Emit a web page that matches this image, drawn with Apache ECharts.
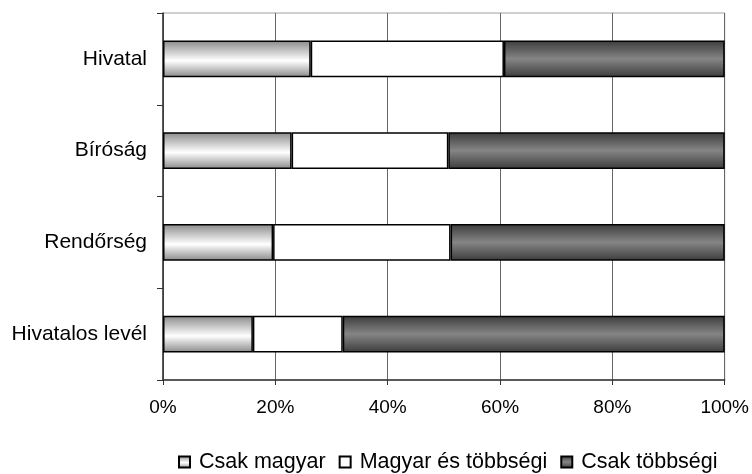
<!DOCTYPE html>
<html><head><meta charset="utf-8">
<script src="https://cdn.jsdelivr.net/npm/echarts@6/dist/echarts.min.js"></script>
<style>html,body{margin:0;padding:0;background:#fff}#c{width:752px;height:474px}</style>
</head><body><div id="c"></div>
<script>
const categories = ['Hivatal', 'Bíróság', 'Rendőrség', 'Hivatalos levél'];
const seriesNames = ['Csak magyar', 'Magyar és többségi', 'Csak többségi'];
const csakMagyar = [26.3, 22.9, 19.6, 16.0];
const magyarEsTobbsegi = [34.4, 27.9, 31.6, 16.0];
const csakTobbsegi = [39.3, 49.2, 48.8, 68.0];
const xTicks = [0, 20, 40, 60, 80, 100];

const font = 'Liberation Sans, Arial, sans-serif';
const chart = echarts.init(document.getElementById('c'), null, {renderer: 'canvas'});
const grad1 = new echarts.graphic.LinearGradient(0, 0, 0, 1, [
  {offset: 0, color: '#8a8a8a'}, {offset: 0.55, color: '#ffffff'}, {offset: 1, color: '#8a8a8a'}]);
const grad3 = new echarts.graphic.LinearGradient(0, 0, 0, 1, [
  {offset: 0, color: '#3c3c3c'}, {offset: 0.5, color: '#858585'}, {offset: 1, color: '#3c3c3c'}]);
const mk = (name, data, color) => ({
  name, type: 'bar', stack: 'total', data, barWidth: '40%',
  itemStyle: {color, borderColor: '#000', borderWidth: 1.5},
  emphasis: {disabled: true}
});
chart.setOption({
  animation: false,
  backgroundColor: '#fff',
  grid: {left: 163, right: 25, top: 13, bottom: 94, containLabel: false,
    show: true, borderColor: '#a0a0a0', borderWidth: 1},
  xAxis: {
    type: 'value', min: 0, max: 100, interval: 20,
    axisLine: {show: true, lineStyle: {color: '#333', width: 1.5}},
    axisTick: {show: true, length: 5, lineStyle: {color: '#333'}},
    splitLine: {show: true, lineStyle: {color: '#666', width: 1}},
    axisLabel: {formatter: v => xTicks.includes(v) ? v + '%' : '', color: '#000',
      fontFamily: font, fontSize: 19, margin: 18}
  },
  yAxis: {
    type: 'category', data: categories, inverse: true,
    axisLine: {show: true, lineStyle: {color: '#333', width: 1.5}},
    axisTick: {show: true, length: 6, lineStyle: {color: '#333'}},
    splitLine: {show: false},
    axisLabel: {color: '#000', fontFamily: font, fontSize: 21, margin: 16}
  },
  legend: {
    top: 451, left: 178, itemWidth: 11, itemHeight: 11, itemGap: 13,
    icon: 'rect', padding: 0,
    textStyle: {color: '#000', fontFamily: font, fontSize: 21.5, padding: [0, 0, 0, 4]},
    data: seriesNames
  },
  series: [
    mk(seriesNames[0], csakMagyar, grad1),
    mk(seriesNames[1], magyarEsTobbsegi, '#ffffff'),
    mk(seriesNames[2], csakTobbsegi, grad3)
  ]
});
</script></body></html>
